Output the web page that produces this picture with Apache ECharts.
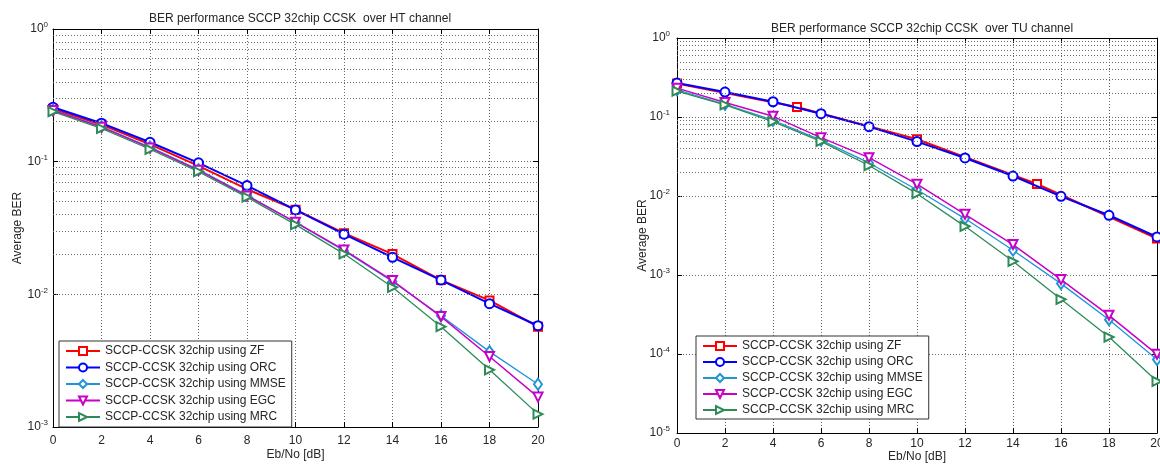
<!DOCTYPE html>
<html>
<head>
<meta charset="utf-8">
<script src="https://cdn.jsdelivr.net/npm/echarts@6/dist/echarts.min.js"></script>
<style>
  html, body { margin: 0; padding: 0; background: #fff; }
  #wrap { position: relative; width: 1160px; height: 468px; overflow: hidden; }
  #ht { position: absolute; left: 0; top: 0; width: 580px; height: 468px; }
  #tu { position: absolute; left: 580px; top: 0; width: 620px; height: 468px; }
</style>
</head>
<body>
<div id="wrap"><div id="ht"></div><div id="tu"></div></div>
<script>
// Eb/No points (dB)
const ebno = [0, 2, 4, 6, 8, 10, 12, 14, 16, 18, 20];
const ebnoZfTU = [0, 5, 10, 15, 20];

// BER over the HT channel
const htZF   = [0.250, 0.190, 0.135, 0.093, 0.062, 0.0435, 0.0289, 0.0201, 0.0128, 0.0090, 0.0057];
const htORC  = [0.257, 0.195, 0.140, 0.098, 0.066, 0.0433, 0.0284, 0.0190, 0.0128, 0.0085, 0.0058];
const htMMSE = [0.245, 0.184, 0.129, 0.087, 0.056, 0.0348, 0.0213, 0.0125, 0.0069, 0.0037, 0.0021];
const htEGC  = [0.243, 0.182, 0.127, 0.086, 0.0552, 0.0350, 0.0216, 0.0127, 0.0068, 0.0034, 0.00168];
const htMRC  = [0.238, 0.178, 0.124, 0.084, 0.054, 0.0335, 0.0202, 0.0113, 0.0057, 0.0027, 0.00125];

// BER over the TU channel
const tuZF   = [0.265, 0.134, 0.0522, 0.0142, 0.0029];
const tuORC  = [0.269, 0.207, 0.156, 0.110, 0.0755, 0.0488, 0.0303, 0.0179, 0.0099, 0.0057, 0.00303];
const tuMMSE = [0.220, 0.145, 0.091, 0.051, 0.0262, 0.0120, 0.00518, 0.00206, 0.000778, 0.000272, 0.0000849];
const tuEGC  = [0.232, 0.153, 0.102, 0.0548, 0.0306, 0.0141, 0.00586, 0.00243, 0.000875, 0.000309, 0.0000991];
const tuMRC  = [0.213, 0.142, 0.0874, 0.0492, 0.0243, 0.0107, 0.00413, 0.00149, 0.000492, 0.000164, 0.0000451];

const names = [
  'SCCP-CCSK 32chip using ZF',
  'SCCP-CCSK 32chip using ORC',
  'SCCP-CCSK 32chip using MMSE',
  'SCCP-CCSK 32chip using EGC',
  'SCCP-CCSK 32chip using MRC'
];
const xTicks = [0, 2, 4, 6, 8, 10, 12, 14, 16, 18, 20];

const FONT = '"Liberation Sans", Arial, Helvetica, sans-serif';
const TXT = '#262626';
const GRID_DASH = [1, 2];
const GRID_COLOR = '#6a6a6a';

const styles = [
  { color: '#ff0000', symbol: 'emptyRect',     size: 8,       rot: 0,   lw: 2 },
  { color: '#0000ff', symbol: 'emptyCircle',   size: 9,       rot: 0,   lw: 2 },
  { color: '#1e96d6', symbol: 'emptyDiamond',  size: [8, 11], rot: 0,   lw: 1.3 },
  { color: '#c800c8', symbol: 'emptyTriangle', size: 9,       rot: 180, lw: 1.5 },
  { color: '#2e8b57', symbol: 'emptyTriangle', size: 9,       rot: -90, lw: 1.3 }
];

function pairs(xs, ys) { return xs.map((x, i) => [x, ys[i]]); }

// 2..9 x 10^k lines between decades of a log axis
function minorLines(minExp, maxExp) {
  const out = [];
  for (let e = minExp; e < maxExp; e++) {
    for (let m = 2; m <= 9; m++) out.push({ yAxis: m * Math.pow(10, e) });
  }
  return out;
}

function buildOption(cfg) {
  const series = [{
    name: '_minor',
    type: 'line',
    data: [],
    silent: true,
    z: 1,
    markLine: {
      silent: true,
      symbol: ['none', 'none'],
      label: { show: false },
      lineStyle: { type: GRID_DASH, color: GRID_COLOR, width: 1 },
      emphasis: { disabled: true },
      animation: false,
      data: minorLines(cfg.minExp, 0)
    }
  }];
  cfg.sets.forEach((s, i) => {
    const st = styles[i];
    series.push({
      name: names[i],
      type: 'line',
      data: pairs(s.x, s.y),
      symbol: st.symbol,
      symbolSize: st.size,
      symbolRotate: st.rot,
      showAllSymbol: true,
      z: 3 + i,
      lineStyle: { color: st.color, width: st.lw },
      itemStyle: { color: st.color, borderColor: st.color, borderWidth: 1.5 },
      emphasis: { disabled: true }
    });
  });

  const yLabel = {
    fontFamily: FONT, color: TXT, fontSize: 12, margin: cfg.yMargin,
    formatter: v => '{b|10}{s|' + Math.round(Math.log10(v)) + '}',
    rich: {
      b: { fontFamily: FONT, fontSize: 12, color: TXT },
      s: { fontFamily: FONT, fontSize: 8, color: TXT, verticalAlign: 'bottom', padding: [0, 0, 8, 0] }
    }
  };

  return {
    animation: false,
    backgroundColor: '#fff',
    title: {
      text: cfg.title,
      left: cfg.titleX, top: cfg.titleY, textAlign: 'center',
      textStyle: { fontFamily: FONT, fontSize: 12, fontWeight: 'normal', color: TXT }
    },
    legend: {
      data: names,
      orient: 'vertical',
      left: cfg.legendLeft, top: cfg.legendTop,
      padding: cfg.legendPad,
      itemGap: cfg.legendGap,
      itemWidth: 34, itemHeight: 10,
      backgroundColor: '#fff',
      borderColor: '#333', borderWidth: 1, borderRadius: 0,
      selectedMode: false,
      textStyle: { fontFamily: FONT, fontSize: 12, color: TXT }
    },
    grid: { left: cfg.gl, top: cfg.gt, width: cfg.gw, height: cfg.gh, containLabel: false },
    xAxis: [{
      type: 'value', min: 0, max: 20, interval: 2, position: 'bottom',
      name: 'Eb/No [dB]', nameLocation: 'middle', nameGap: cfg.xNameGap, nameMoveOverlap: false,
      nameTextStyle: { fontFamily: FONT, fontSize: 12, color: TXT },
      axisLine: { show: true, onZero: false, lineStyle: { color: '#000', width: 1 } },
      axisTick: { show: true, inside: true, length: 5, lineStyle: { color: '#000' } },
      axisLabel: {
        fontFamily: FONT, fontSize: 12, color: TXT, margin: cfg.xMargin,
        alignMinLabel: 'center', alignMaxLabel: 'center', hideOverlap: false,
        formatter: v => (xTicks.indexOf(v) >= 0 ? String(v) : '')
      },
      splitLine: { show: true, lineStyle: { type: GRID_DASH, color: GRID_COLOR, width: 1 } }
    }, {
      type: 'value', min: 0, max: 20, interval: 2, position: 'top',
      axisLine: { show: true, onZero: false, lineStyle: { color: '#000', width: 1 } },
      axisTick: { show: true, inside: true, length: 5, lineStyle: { color: '#000' } },
      axisLabel: { show: false },
      splitLine: { show: false }
    }],
    yAxis: [{
      type: 'log', logBase: 10, min: Math.pow(10, cfg.minExp), max: 1, position: 'left',
      name: 'Average BER', nameLocation: 'middle', nameGap: cfg.yNameGap, nameRotate: 90,
      nameMoveOverlap: false,
      nameTextStyle: { fontFamily: FONT, fontSize: 12, color: TXT },
      axisLine: { show: true, onZero: false, lineStyle: { color: '#000', width: 1 } },
      axisTick: { show: true, inside: true, length: 5, lineStyle: { color: '#000' } },
      axisLabel: yLabel,
      splitLine: { show: true, lineStyle: { type: GRID_DASH, color: GRID_COLOR, width: 1 } }
    }, {
      type: 'log', logBase: 10, min: Math.pow(10, cfg.minExp), max: 1, position: 'right',
      axisLine: { show: true, onZero: false, lineStyle: { color: '#000', width: 1 } },
      axisTick: { show: true, inside: true, length: 5, lineStyle: { color: '#000' } },
      axisLabel: { show: false },
      splitLine: { show: false }
    }],
    series: series
  };
}

const ht = echarts.init(document.getElementById('ht'), null, { renderer: 'canvas' });
ht.setOption(buildOption({
  title: 'BER performance SCCP 32chip CCSK  over HT channel',
  titleX: 295, titleY: 8,
  gl: 53, gt: 29, gw: 485, gh: 398,
  minExp: -3,
  xMargin: 8, xNameGap: 22, yMargin: 5, yNameGap: 29,
  legendLeft: 59, legendTop: 341, legendPad: [4, 6, 4, 6], legendGap: 4.5,
  sets: [
    { x: ebno, y: htZF }, { x: ebno, y: htORC }, { x: ebno, y: htMMSE },
    { x: ebno, y: htEGC }, { x: ebno, y: htMRC }
  ]
}));

// this panel runs past the page edge, the wrapper crops it
const tu = echarts.init(document.getElementById('tu'), null, { renderer: 'canvas' });
tu.setOption(buildOption({
  title: 'BER performance SCCP 32chip CCSK  over TU channel',
  titleX: 337, titleY: 18,
  gl: 97, gt: 38, gw: 480, gh: 395,
  minExp: -5,
  xMargin: 5, xNameGap: 18, yMargin: 7, yNameGap: 28,
  legendLeft: 116, legendTop: 336, legendPad: [4, 6, 3, 6], legendGap: 4,
  sets: [
    { x: ebnoZfTU, y: tuZF }, { x: ebno, y: tuORC }, { x: ebno, y: tuMMSE },
    { x: ebno, y: tuEGC }, { x: ebno, y: tuMRC }
  ]
}));
</script>
</body>
</html>
